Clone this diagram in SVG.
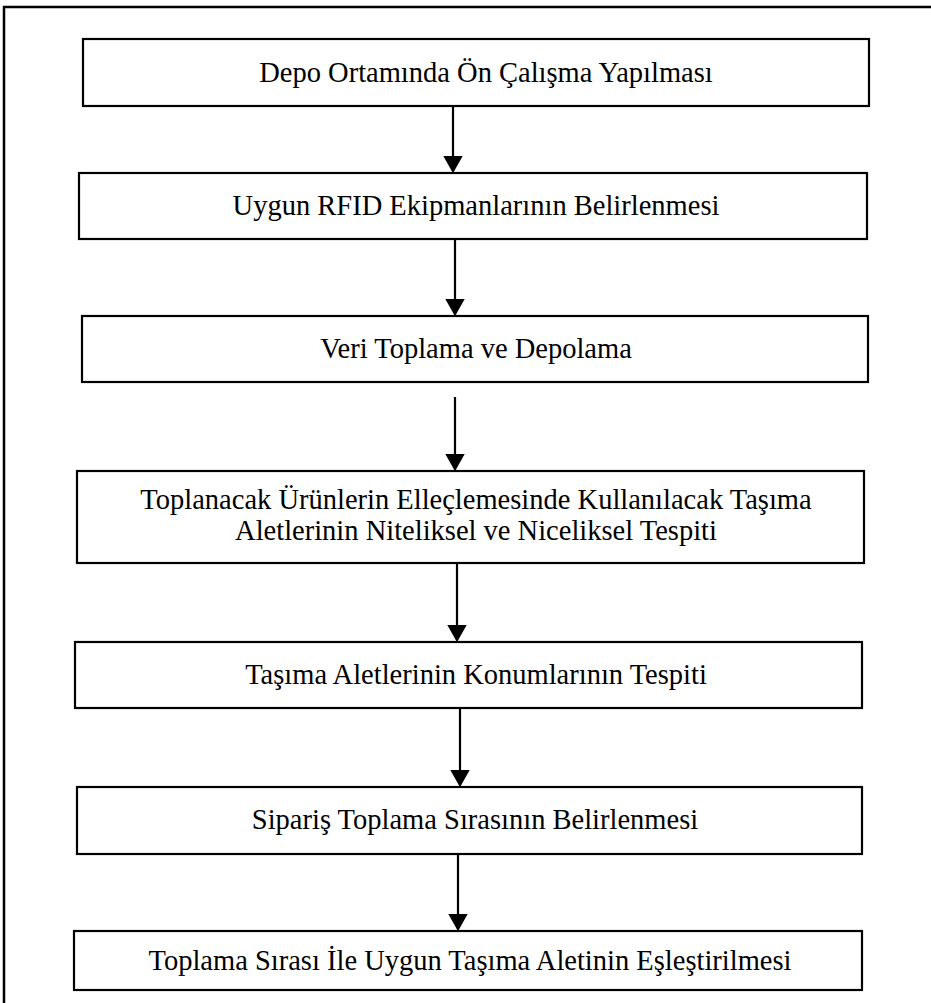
<svg xmlns="http://www.w3.org/2000/svg" width="931" height="1003" viewBox="0 0 931 1003">
<defs>
<style>
.box{fill:#fff;stroke:#000;stroke-width:2.2}
.t{font-family:"Liberation Serif","Times New Roman",serif;font-size:28.5px;fill:#000;text-anchor:middle}
.c{stroke:#000;stroke-width:2.2;fill:none}
</style>
<marker id="ah" markerWidth="8" markerHeight="9" refX="7" refY="4.5" orient="auto" markerUnits="strokeWidth">
<path d="M0,0 L8,4.5 L0,9 Z" fill="#000"/>
</marker>
</defs>
<rect width="931" height="1003" fill="#fff"/>
<rect x="4" y="7" width="940" height="1010" fill="none" stroke="#000" stroke-width="2.5"/>
<g id="n1"><rect class="box" x="83" y="39" width="786" height="67"/><text class="t" x="486" y="82">Depo Ortamında Ön Çalışma Yapılması</text></g>
<g id="n2"><rect class="box" x="79" y="173" width="788" height="66"/><text class="t" x="476" y="215">Uygun RFID Ekipmanlarının Belirlenmesi</text></g>
<g id="n3"><rect class="box" x="82" y="316" width="786" height="66"/><text class="t" x="476" y="358">Veri Toplama ve Depolama</text></g>
<g id="n4"><rect class="box" x="77" y="471" width="787" height="92"/><text class="t" x="476" y="509">Toplanacak Ürünlerin Elleçlemesinde Kullanılacak Taşıma</text><text class="t" x="476" y="540">Aletlerinin Niteliksel ve Niceliksel Tespiti</text></g>
<g id="n5"><rect class="box" x="75" y="642" width="787" height="66"/><text class="t" x="476" y="684">Taşıma Aletlerinin Konumlarının Tespiti</text></g>
<g id="n6"><rect class="box" x="77" y="787" width="785" height="67"/><text class="t" x="475" y="829">Sipariş Toplama Sırasının Belirlenmesi</text></g>
<g id="n7"><rect class="box" x="74" y="931" width="788" height="59"/><text class="t" x="470" y="970">Toplama Sırası İle Uygun Taşıma Aletinin Eşleştirilmesi</text></g>
<g id="connectors">
<line class="c" x1="453" y1="106" x2="453" y2="171" marker-end="url(#ah)"/>
<line class="c" x1="455" y1="239" x2="455" y2="314" marker-end="url(#ah)"/>
<line class="c" x1="455" y1="397" x2="455" y2="469" marker-end="url(#ah)"/>
<line class="c" x1="457" y1="563" x2="457" y2="640" marker-end="url(#ah)"/>
<line class="c" x1="460" y1="708" x2="460" y2="785" marker-end="url(#ah)"/>
<line class="c" x1="458" y1="854" x2="458" y2="929" marker-end="url(#ah)"/>
</g>
</svg>
